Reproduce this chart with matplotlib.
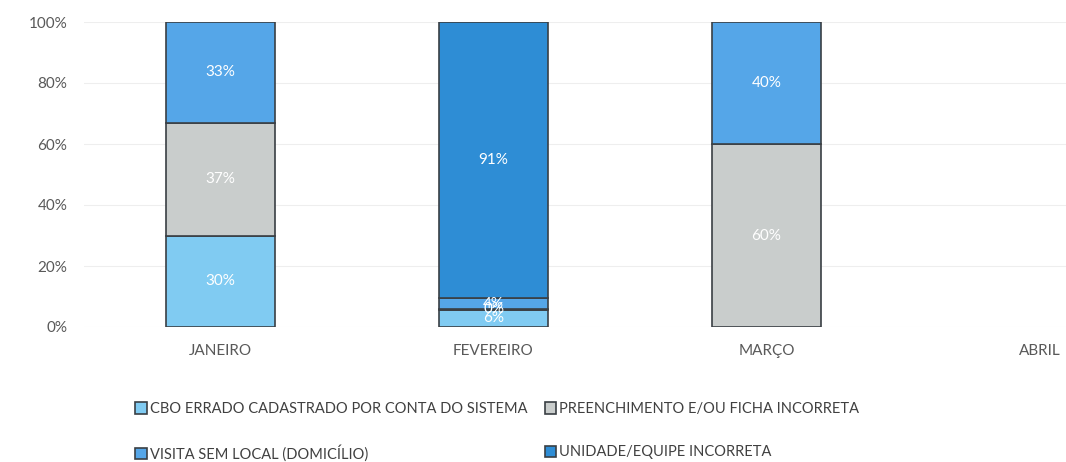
import numpy as np
import matplotlib.pyplot as plt

plt.rcParams['font.family'] = ['Lato', 'DejaVu Sans']

meses = ['JANEIRO', 'FEVEREIRO', 'MARÇO', 'ABRIL']
series = ['CBO ERRADO CADASTRADO POR CONTA DO SISTEMA',
          'PREENCHIMENTO E/OU FICHA INCORRETA',
          'VISITA SEM LOCAL (DOMICÍLIO)',
          'UNIDADE/EQUIPE INCORRETA']

# fractions per month (nan = no value)
cbo = [0.30, 0.057, np.nan, np.nan]
preenchimento = [0.37, 0.001, 0.60, np.nan]
visita = [0.33, 0.036, 0.40, np.nan]
unidade = [np.nan, 0.906, np.nan, np.nan]

cores = ['#80cbf2', '#c9cdcc', '#55a6e8', '#2e8dd5']

fig = plt.figure(figsize=(10.66, 4.62), dpi=100)
# axes runs past the right edge, the source image is cropped
ax = fig.add_axes([84 / 1066, 135 / 462, 1092 / 1066, 305 / 462])

x = np.arange(len(meses))
base = np.zeros(len(meses))
for nome, vals, cor in zip(series, [cbo, preenchimento, visita, unidade], cores):
    v = np.array(vals, dtype=float)
    ok = ~np.isnan(v)
    ax.bar(x[ok], v[ok], 0.4, bottom=base[ok], color=cor, edgecolor='#3a3f44',
           linewidth=1.2, label=nome)
    for i in np.where(ok)[0]:
        ax.text(x[i], base[i] + v[i] / 2, f'{v[i]:.0%}', ha='center',
                va='center', color='white', fontsize=11)
    base += np.nan_to_num(v)

ax.set_xlim(-0.5, 3.5)
ax.set_ylim(0, 1)
ax.set_xticks(x)
ax.set_xticklabels(meses)
ax.set_yticks(np.arange(0, 1.01, 0.2))
ax.set_yticklabels([f'{int(t * 100)}%' for t in np.arange(0, 1.01, 0.2)])
ax.tick_params(length=0, labelsize=11, colors='#595959', pad=12)
for s in ax.spines.values():
    s.set_visible(False)
ax.grid(axis='y', color='#eeeeee', linewidth=0.8)
ax.set_axisbelow(True)

handles, labels = ax.get_legend_handles_labels()
order = [0, 2, 1, 3]
fig.legend([handles[i] for i in order], [labels[i] for i in order],
           loc='upper left', bbox_to_anchor=(135 / 1066, 60 / 462),
           ncol=2, frameon=False, fontsize=10.5, labelcolor='#404040',
           borderaxespad=0, borderpad=0,
           handlelength=0.8, handleheight=0.8, handletextpad=0.2,
           columnspacing=1.2, labelspacing=2.0)

fig.savefig('out.png', dpi=100)
